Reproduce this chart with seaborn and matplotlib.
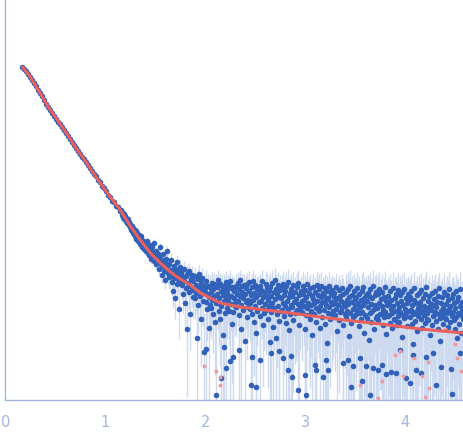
import numpy as np
import pandas as pd
import seaborn as sns
import matplotlib.pyplot as plt
from matplotlib.ticker import NullLocator

# log10 of intensity (y axis is log, ticks at 1, 0.1, 0.01, 0.001)
# guinier part, points sit right on the fit
logI_low = [-0.00, -0.02, -0.04, -0.07, -0.10, -0.13, -0.16, -0.19, -0.23, -0.26,
            -0.29, -0.33, -0.37, -0.40, -0.43, -0.46, -0.49, -0.52, -0.55, -0.57,
            -0.60, -0.63, -0.66, -0.69, -0.72, -0.75, -0.78, -0.81, -0.84, -0.87,
            -0.90, -0.92, -0.95, -0.98, -1.01, -1.04, -1.07, -1.09, -1.13, -1.15,
            -1.19, -1.21, -1.24, -1.28, -1.30, -1.34, -1.35, -1.39, -1.40, -1.44]

# knee, noise grows
logI_mid = [-1.43, -1.48, -1.46, -1.50, -1.47, -1.52, -1.49, -1.54, -1.51, -1.56,
            -1.53, -1.52, -1.58, -1.55, -1.60, -1.57, -1.63, -1.59, -1.61, -1.66,
            -1.61, -1.67, -1.63, -1.69, -1.64, -1.72, -1.66, -1.70, -1.74, -1.68,
            -1.71, -1.77, -1.69, -1.75, -1.73, -1.80, -1.74, -1.78, -1.82, -1.76,
            -1.77, -1.84, -1.79, -1.74, -1.86, -1.81, -1.88, -1.78, -1.85, -1.92,
            -1.83, -1.80, -1.90, -1.86, -1.76, -1.94, -1.88, -1.84, -1.97, -1.89,
            -1.86, -1.95, -1.91, -2.02, -1.88, -1.80, -1.97, -2.08, -1.93, -1.99,
            -1.87, -2.04, -1.95, -2.13, -1.92, -2.01, -1.84, -2.06, -1.98, -2.10,
            -1.97, -2.09, -2.03, -1.93, -2.15, -2.05, -2.24, -1.99, -2.11, -2.02,
            -2.31, -2.07, -1.95, -2.17, -2.04, -2.12, -2.42, -2.00, -2.14, -2.08,
            -2.05, -2.18, -2.11, -2.27, -2.02, -2.14, -2.36, -2.09, -2.21, -2.62,
            -2.07, -2.16, -2.25, -2.04, -2.19, -2.47, -2.12, -2.23, -2.08, -2.30,
            -2.14, -2.23, -2.09, -2.31, -2.18, -2.26, -2.71, -2.12, -2.38, -2.20,
            -2.07, -2.29, -2.16, -2.52, -2.22, -2.11, -2.34, -2.19, -2.85, -2.25]

# flat noisy tail, main band
logI_high = [-2.21, -2.35, -2.14, -2.42, -2.27, -2.19, -2.61, -2.30, -2.20, -2.38, -2.25, -2.41, -2.16, -2.33, -2.47, -2.22, -2.17, -2.29, -2.55, -2.18,
             -2.36, -2.20, -2.27, -2.36, -2.13, -2.44, -2.31, -2.17, -2.52, -2.24, -2.39, -2.19, -2.28, -2.68, -2.19, -2.34, -2.23, -2.46, -2.15, -2.30,
             -2.26, -2.41, -2.18, -2.33, -2.44, -2.21, -2.14, -2.37, -2.29, -2.57, -2.20, -2.45, -2.22, -2.31, -2.24, -2.39, -2.36, -2.19, -2.40, -2.27,
             -2.16, -2.34, -2.48, -2.22, -2.29, -2.13, -2.62, -2.38, -2.25, -2.19, -2.43, -2.31, -2.18, -2.74, -2.27, -2.35, -2.21, -2.50, -2.17, -2.33,
             -2.40, -2.24, -2.15, -2.36, -2.42, -2.28, -2.47, -2.20, -2.33, -2.14, -2.55, -2.26, -2.39, -2.18, -2.30, -2.66, -2.22, -2.44, -2.21, -2.35,
             -2.27, -2.49, -2.19, -2.34, -2.23, -2.41, -2.14, -2.58, -2.30, -2.25, -2.46, -2.37, -2.17, -2.43, -2.29, -2.21, -2.52, -2.33, -2.40, -2.24,
             -2.38, -2.20, -2.45, -2.29, -2.16, -2.36, -2.60, -2.25, -2.41, -2.13, -2.32, -2.71, -2.22, -2.47, -2.27, -2.18, -2.39, -2.54, -2.30, -2.23,
             -2.31, -2.44, -2.21, -2.43, -2.36, -2.17, -2.49, -2.28, -2.39, -2.24, -2.56, -2.19, -2.34, -2.42, -2.15, -2.63, -2.30, -2.26, -2.47, -2.38,
             -2.22, -2.40, -2.29, -2.53, -2.18, -2.35, -2.46, -2.25, -2.45, -2.32, -2.20, -2.43, -2.37, -2.16, -2.58, -2.28, -2.41, -2.37, -2.24, -2.34,
             -2.45, -2.27, -2.19, -2.39, -2.33, -2.62, -2.23, -2.48, -2.30, -2.17, -2.41, -2.36, -2.48, -2.26, -2.52, -2.21, -2.38, -2.44, -2.29, -2.68,
             -2.32, -2.20, -2.47, -2.36, -2.25, -2.55, -2.41, -2.18, -2.34, -2.42, -2.28, -2.44, -2.22, -2.39, -2.61, -2.30, -2.19, -2.50, -2.35, -2.26,
             -2.43, -2.29, -2.57, -2.21, -2.38, -2.33, -2.76, -2.24, -2.46, -2.31, -2.19, -2.40, -2.52, -2.27, -2.35, -2.47, -2.23, -2.44, -2.37, -2.30,
             -2.26, -2.48, -2.35, -2.20, -2.42, -2.64, -2.31, -2.38, -2.23, -2.53, -2.29, -2.45, -2.44, -2.34, -2.21, -2.40, -2.58, -2.27, -2.36, -2.47,
             -2.39, -2.25, -2.50, -2.33, -2.44, -2.22, -2.37, -2.69, -2.30, -2.46, -2.19, -2.56, -2.35, -2.28, -2.42, -2.50, -2.24, -2.49, -2.38, -2.32,
             -2.47, -2.30, -2.21, -2.43, -2.36, -2.59, -2.27, -2.40, -2.46, -2.33, -2.52, -2.24, -2.45, -2.38, -2.20, -2.66, -2.31, -2.48, -2.35, -2.28,
             -2.34, -2.51, -2.26, -2.40, -2.73, -2.29, -2.46, -2.22, -2.37, -2.55, -2.31, -2.44, -2.19, -2.42, -2.62, -2.28, -2.38, -2.51, -2.25, -2.49,
             -2.41, -2.27, -2.53, -2.36, -2.22, -2.47, -2.32, -2.47, -2.39, -2.25, -2.58, -2.43, -2.30, -2.50, -2.20, -2.45, -2.67, -2.34, -2.38, -2.49,
             -2.29, -2.48, -2.37, -2.56, -2.24, -2.42, -2.33, -2.61, -2.46, -2.21, -2.39, -2.52, -2.53, -2.31, -2.44, -2.27, -2.58, -2.36, -2.49, -2.23,
             -2.40, -2.55, -2.28, -2.45, -2.34, -2.70, -2.25, -2.48, -2.38, -2.22, -2.51, -2.42, -2.50, -2.31, -2.46, -2.36, -2.59, -2.27, -2.44, -2.33,
             -2.50, -2.30, -2.43, -2.24, -2.57, -2.38, -2.47, -2.77, -2.33, -2.21, -2.45, -2.54, -2.36, -2.64, -2.28, -2.41, -2.49, -2.26, -2.46, -2.39,
             -2.35, -2.52, -2.23, -2.44, -2.61, -2.31, -2.48, -2.39, -2.27, -2.56, -2.42, -2.20, -2.52, -2.46, -2.34, -2.53, -2.29, -2.40, -2.68, -2.37,
             -2.43, -2.26, -2.58, -2.38, -2.49, -2.32, -2.48, -2.45, -2.24, -2.54, -2.40, -2.35, -2.62, -2.29, -2.47, -2.21, -2.51, -2.74, -2.36, -2.44,
             -2.30, -2.48, -2.41, -2.57, -2.25, -2.44, -2.51, -2.37, -2.52, -2.28, -2.46, -2.33, -2.60, -2.22, -2.42, -2.55, -2.39, -2.45, -2.31, -2.49,
             -2.45, -2.27, -2.53, -2.36, -2.62, -2.41, -2.24, -2.50, -2.34, -2.71, -2.46, -2.30, -2.57, -2.39, -2.22, -2.48, -2.66, -2.35, -2.43, -2.52]

# low outliers of the tail, read point by point
tail_q = [2.01, 2.11, 2.16, 2.19, 2.21, 2.25, 2.28, 2.34, 2.46, 2.47, 2.51, 2.55, 2.65, 2.66, 2.74, 2.78, 2.83,
          2.86, 2.87, 2.93, 3.00, 3.01, 3.10, 3.11, 3.18, 3.21, 3.23, 3.38, 3.43, 3.46, 3.48, 3.55, 3.57, 3.61, 3.65, 3.68, 3.73,
          3.77, 3.81, 3.86, 3.91, 3.95, 4.01, 4.05, 4.08, 4.11, 4.16, 4.21, 4.28, 4.31, 4.36, 4.46, 4.47, 4.55]
tail_log = [-2.82, -3.28, -3.11, -2.80, -3.01, -2.94, -2.90, -2.83, -3.18, -2.90, -3.20, -2.93, -2.75, -2.86, -2.84, -2.91, -3.03,
            -2.89, -3.10, -3.23, -3.08, -3.28, -2.98, -3.03, -3.10, -2.93, -3.03, -2.96, -2.93, -3.20, -2.99, -2.91, -3.14, -2.99, -3.28, -3.01, -3.03,
            -2.98, -3.07, -3.05, -3.06, -2.83, -3.11, -3.16, -2.88, -3.03, -3.06, -2.90, -2.86, -3.18, -3.00, -3.02, -3.27, -2.86]

# q ranges of the evenly spaced parts
low_range = (0.17, 1.15)
mid_range = (1.16, 1.995)
high_range = (2.0, 4.575)

# error size (absolute) per q block
err_edges = [1.3, 1.6, 1.9, 2.6, 3.4]
err_sigma = [0.0004, 0.0014, 0.0019, 0.002, 0.0024, 0.0028]

# pink points (flagged ones)
pink_q = [1.99, 2.11, 2.15, 2.15, 3.55, 3.73, 3.77, 3.90, 3.95, 3.98, 4.09, 4.17, 4.20, 4.23, 4.24, 4.40, 4.50, 4.52, 4.56]
pink_log = [-2.99, -3.04, -3.10, -3.18, -3.18, -3.31, -3.14, -2.88, -2.84, -3.09, -2.91, -3.09, -3.30, -2.95, -3.21, -2.62, -2.77, -2.91, -3.04]

# fitted curve
fit_q = [0.17, 0.23, 0.30, 0.36, 0.43, 0.50, 0.57, 0.63, 0.70, 0.78, 0.86, 0.95, 1.05, 1.15, 1.25, 1.35,
         1.45, 1.55, 1.65, 1.75, 1.85, 1.95, 2.05, 2.15, 2.35, 2.60, 2.85, 3.30, 3.75, 4.15, 4.58]
fit_log = [-0.00, -0.07, -0.18, -0.28, -0.40, -0.50, -0.60, -0.69, -0.80, -0.91, -1.03, -1.16, -1.30, -1.43, -1.59, -1.73,
           -1.86, -1.96, -2.05, -2.12, -2.18, -2.26, -2.31, -2.36, -2.40, -2.43, -2.46, -2.52, -2.57, -2.62, -2.66]

q = np.concatenate([np.linspace(*low_range, len(logI_low)),
                    np.linspace(*mid_range, len(logI_mid)),
                    np.linspace(*high_range, len(logI_high)),
                    np.array(tail_q)])
df = pd.DataFrame({"q": q, "I": 10 ** np.array(logI_low + logI_mid + logI_high + tail_log)})
df = df.sort_values("q").reset_index(drop=True)
df["sigma"] = np.array(err_sigma)[np.searchsorted(err_edges, df["q"])]

ymin, ymax = 10 ** -3.325, 10 ** 0.67
lower = df["I"] - np.maximum(df["I"] - df["sigma"], ymin * 0.5)
upper = df["sigma"]

axis_col = "#a3b5de"

sns.set_style("white")
plt.rcParams["font.family"] = ["DejaVu Sans"]

fig = plt.figure(figsize=(4.63, 4.38), dpi=100)
ax = fig.add_axes([5.3 / 463, 38.5 / 438, (463 - 5.3) / 463, 399.5 / 438])
ax.set_yscale("log")

ax.errorbar(df["q"], df["I"], yerr=[lower, upper], fmt="none",
            ecolor="#cddaf0", elinewidth=1, zorder=1)
sns.scatterplot(data=df, x="q", y="I", s=16, color="#3161b9", linewidth=0, ax=ax, zorder=2)
sns.scatterplot(x=pink_q, y=10 ** np.array(pink_log), s=8, color="#f29b9b", linewidth=0, ax=ax, zorder=3)
sns.lineplot(x=fit_q, y=10 ** np.array(fit_log), color="#e9605c", linewidth=2.2, ax=ax, zorder=4)

ax.set_xlim(0, 4.577)
ax.set_ylim(ymin, ymax)
ax.set_xticks([0, 1, 2, 3, 4])
ax.set_yticks([1e-3, 1e-2, 1e-1, 1])
ax.yaxis.set_minor_locator(NullLocator())
ax.set_xlabel("")
ax.set_ylabel("")

for side in ["top", "right"]:
    ax.spines[side].set_visible(False)
for side in ["left", "bottom"]:
    ax.spines[side].set_color(axis_col)
    ax.spines[side].set_linewidth(1)

ax.tick_params(axis="both", direction="in", length=5.5, width=1, color=axis_col,
               labelcolor=axis_col, labelsize=10.5)
ax.tick_params(axis="x", pad=11)
ax.tick_params(axis="y", labelleft=False)

fig.savefig("out.png", dpi=100)
